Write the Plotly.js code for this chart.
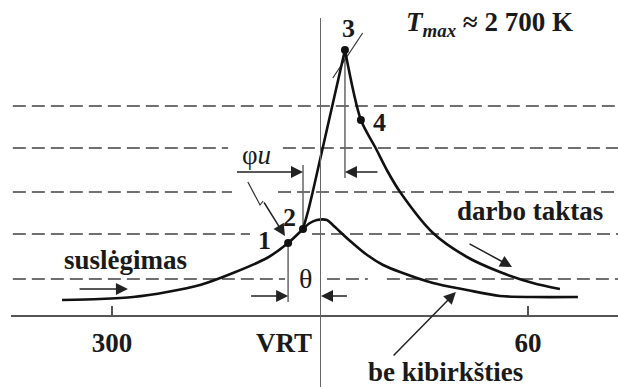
<!DOCTYPE html>
<html>
<head>
<meta charset="utf-8">
<script src="https://cdn.plot.ly/plotly-3.0.1.min.js"></script>
<style>html,body{margin:0;padding:0;background:#fff;}#chart{width:618px;height:387px;}</style>
</head>
<body>
<div id="chart"></div>
<script>
// crank angle (deg) and pressure (arbitrary units)
var compX = [285.6, 296.5, 306.1, 315.9, 325.4, 334.9, 344.7, 350.8, 355.1];
var compY = [1.6, 1.7, 1.9, 2.4, 3.1, 4.3, 5.8, 7.3, 8.7];
var combX = [355.1, 356.5, 357.9, 367.2];
var combY = [8.7, 10.4, 12.4, 26.6];
var expX = [367.2, 371.8, 375.9, 379.6, 383.1, 392.6, 402.4, 411.9, 421.4, 429.2];
var expY = [26.6, 19.6, 16.9, 14.4, 12.4, 8.3, 5.9, 4.4, 3.3, 2.7];
var noSparkX = [355.1, 357.1, 359.1, 362.0, 363.7, 368.7, 373.6, 378.2, 383.1, 392.6, 402.4, 411.9, 421.4, 434.4];
var noSparkY = [8.7, 9.3, 9.6, 9.6, 9.1, 7.5, 6.1, 5.1, 4.4, 3.3, 2.6, 2.0, 1.9, 1.9];
var pointNames = ['1', '2', '3', '4'];
var pointX = [350.8, 355.1, 367.2, 371.8];
var pointY = [7.3, 8.7, 26.6, 19.6];
var tickVals = [300, 420];
var tickText = ['300', '60'];
var gridY = [21.0, 16.8, 12.4, 8.2, 3.7];
var gridSegs = [
  [[271.4, 446]],
  [[271.4, 333.5], [349.3, 446]],
  [[271.4, 334.6], [347.9, 446]],
  [[271.4, 339.8], [357.7, 446]],
  [[271.4, 349.9], [362.0, 373.8], [379.3, 446]]
];
// construction lines
var vlineX = [350.8, 355.1, 367.2];
var vlineY0 = [7.3, 8.7, 26.6];
var vlineY1 = [1.4, 15.1, 13.8];
var leaderX = [372.3, 363.7];
var leaderY = [28.3, 23.8];
var sparkX = [339.2, 342.7, 343.6];
var sparkY = [13.4, 11.1, 11.5];

var FONT = 'Liberation Serif, Times New Roman, serif';
var INK = '#111';

var traces = [];
var gx = [], gy = [];
gridY.forEach(function (y, i) {
  gridSegs[i].forEach(function (s) { gx.push(s[0], s[1], null); gy.push(y, y, null); });
});
traces.push({x: gx, y: gy, mode: 'lines', line: {color: '#707070', width: 2, dash: '13px,6px'}, hoverinfo: 'skip'});
var vx = [], vy = [];
vlineX.forEach(function (x, i) { vx.push(x, x, null); vy.push(vlineY0[i], vlineY1[i], null); });
traces.push({x: vx, y: vy, mode: 'lines', line: {color: '#666', width: 1.5}, hoverinfo: 'skip'});
traces.push({x: leaderX, y: leaderY, mode: 'lines', line: {color: '#333', width: 1.2}, hoverinfo: 'skip'});
traces.push({x: sparkX, y: sparkY, mode: 'lines', line: {color: '#333', width: 1.2}, hoverinfo: 'skip'});
traces.push({x: compX, y: compY, mode: 'lines', line: {color: INK, width: 2.6, shape: 'spline', smoothing: 0.8}});
traces.push({x: combX, y: combY, mode: 'lines', line: {color: INK, width: 2.6, shape: 'spline', smoothing: 0.5}});
traces.push({x: expX, y: expY, mode: 'lines', line: {color: INK, width: 2.6, shape: 'spline', smoothing: 0.8}});
traces.push({x: noSparkX, y: noSparkY, mode: 'lines', line: {color: INK, width: 2.6, shape: 'spline', smoothing: 0.8}});
traces.push({x: pointX, y: pointY, text: pointNames, mode: 'markers', marker: {color: INK, size: 8}});

function txt(x, y, t, size, bold) {
  return {x: x, y: y, xref: 'x', yref: 'y', text: t, showarrow: false,
    font: {family: FONT, size: size, color: '#1a1a1a', weight: bold ? 'bold' : 'normal'}};
}
function arrow(x0, y0, x1, y1) {
  return {x: x1, y: y1, ax: x0, ay: y0, xref: 'x', yref: 'y', axref: 'x', ayref: 'y', text: '',
    showarrow: true, arrowhead: 2, arrowsize: 1.6, arrowwidth: 1.5, arrowcolor: '#222'};
}

var ann = [
  txt(368.1, 28.8, pointNames[2], 26, true),
  txt(377.3, 19.4, pointNames[3], 26, true),
  txt(344.1, 7.6, pointNames[0], 26, true),
  txt(351.3, 9.9, pointNames[1], 26, true),
  txt(408.8, 29.2, '<i>T</i><sub><i>max</i></sub> ≈ 2 700 K', 27, true),
  txt(341.7, 16.1, 'φ<i>u</i>', 27, false),
  txt(355.8, 3.8, 'θ', 28, false),
  txt(303.8, 5.6, 'suslėgimas', 27, true),
  txt(420.5, 10.5, 'darbo taktas', 27, true),
  txt(396.3, -5.6, 'be kibirkšties', 27, true),
  txt(349.6, -2.7, 'VRT', 27, true),
  arrow(290.2, 2.7, 304.6, 2.7),
  arrow(402.7, 7.3, 415.4, 4.9),
  arrow(380.8, -4.1, 399.2, 2.4),
  arrow(343.6, 11.5, 349.9, 8.0),
  arrow(335.6, 14.4, 355.1, 14.4),
  arrow(377.0, 14.4, 367.2, 14.4),
  arrow(339.7, 2.0, 350.8, 2.0),
  arrow(368.2, 2.0, 360.3, 2.0)
];

var layout = {
  width: 618, height: 387,
  margin: {l: 11, r: 0, t: 18, b: 0},
  paper_bgcolor: '#fff', plot_bgcolor: '#fff',
  showlegend: false,
  xaxis: {range: [270.87, 445.96], anchor: 'free', position: 0.1924, showline: true,
    linecolor: '#555', linewidth: 2, ticks: 'inside', ticklen: 9, tickwidth: 1.5, tickcolor: '#555',
    tickvals: tickVals, ticktext: tickText, showgrid: false, zeroline: false, ticklabelstandoff: 3,
    tickfont: {family: FONT, size: 27, color: '#1a1a1a', weight: 'bold'}},
  yaxis: {range: [-7.1, 29.8], anchor: 'free', position: 0.50906, showline: true,
    linecolor: '#666', linewidth: 1.5, showticklabels: false, ticks: '', showgrid: false, zeroline: false},
  annotations: ann
};
Plotly.newPlot('chart', traces, layout, {displayModeBar: false, staticPlot: true});
</script>
</body>
</html>
